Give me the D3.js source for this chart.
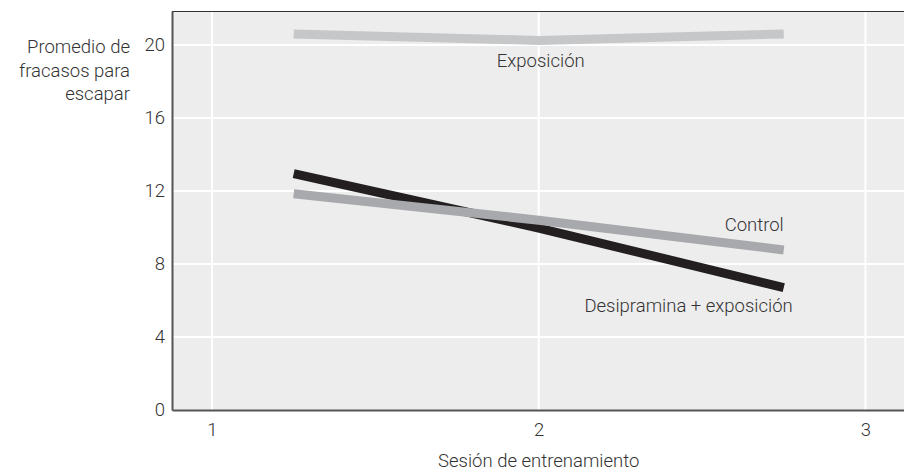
<!DOCTYPE html>
<html><head><meta charset="utf-8">
<script src="https://cdn.jsdelivr.net/npm/d3@7"></script>
<style>body{margin:0;background:#fff}svg{display:block}text{font-family:Roboto,"Liberation Sans",sans-serif;font-weight:300;fill:#333}</style>
</head><body><svg id="c" width="904" height="472"></svg>
<script>
const sessions = [1.25, 2, 2.75];
const exposicion = [20.6, 20.25, 20.6];
const control = [11.85, 10.4, 8.77];
const desipramina = [12.95, 9.97, 6.7];
const yTicks = [0, 4, 8, 12, 16, 20];
const xTicks = [1, 2, 3];
const seriesNames = ["Exposición", "Control", "Desipramina + exposición"];
const yLabelLines = ["Promedio de", "fracasos para", "escapar"];
const xLabel = "Sesión de entrenamiento";

const W = 904, H = 472, FS = "18.5px";
const m = {left:172, top:11, right:0, bottom:62};
const svg = d3.select("#c");
const x = d3.scaleLinear().domain([0.8776, 3.118]).range([m.left, W - m.right]);
const y = d3.scaleLinear().domain([0, 21.86]).range([H - m.bottom, m.top]);

svg.append("rect").attr("x", m.left).attr("y", m.top)
  .attr("width", W - m.right - m.left).attr("height", H - m.bottom - m.top).attr("fill", "#ededed");

// grid
svg.append("g").selectAll("line").data(yTicks.filter(d => d > 0)).join("line")
  .attr("x1", m.left).attr("x2", W).attr("y1", d => y(d)).attr("y2", d => y(d))
  .attr("stroke", "#fff").attr("stroke-width", 2);
svg.append("g").selectAll("line").data(xTicks).join("line")
  .attr("x1", d => x(d)).attr("x2", d => x(d)).attr("y1", m.top).attr("y2", H - m.bottom)
  .attr("stroke", "#fff").attr("stroke-width", 2);

// top border
svg.append("line").attr("x1", m.left).attr("x2", W).attr("y1", m.top + 0.5).attr("y2", m.top + 0.5)
  .attr("stroke", "#333").attr("stroke-width", 1.2);

// axes
const yAxis = d3.axisLeft(y).tickValues(yTicks).tickSize(0).tickPadding(7);
const gy = svg.append("g").attr("transform", `translate(${m.left},0)`).call(yAxis);
gy.select(".domain").attr("stroke", "#555").attr("stroke-width", 2);
gy.selectAll("text").style("font-size", FS).style("font-family", null).attr("fill", "#333");

const xAxis = d3.axisBottom(x).tickValues(xTicks).tickFormat(d3.format("d")).tickSize(0).tickPadding(13);
const gx = svg.append("g").attr("transform", `translate(0,${H - m.bottom})`).call(xAxis);
gx.select(".domain").attr("stroke", "#555").attr("stroke-width", 2);
gx.selectAll("text").style("font-size", FS).attr("fill", "#333");
svg.selectAll("g").attr("font-family", null).attr("font-size", null);

// lines
const line = d3.line().x(d => x(d[0])).y(d => y(d[1]));
const series = [
  {vals: exposicion, color: "#c6c7c8"},
  {vals: control, color: "#a7a9ac"},
  {vals: desipramina, color: "#231f20"}
];
[series[0], series[2], series[1]].forEach(s => {
  svg.append("path").datum(sessions.map((t, i) => [t, s.vals[i]]))
    .attr("d", line).attr("fill", "none").attr("stroke", s.color)
    .attr("stroke-width", 9).attr("stroke-linejoin", "miter").attr("stroke-linecap", "butt");
});

// series labels
svg.append("text").attr("x", x(2) + 2).attr("y", 67).attr("text-anchor", "middle")
  .style("font-size", FS).text(seriesNames[0]);
svg.append("text").attr("x", x(2.75)).attr("y", 231).attr("text-anchor", "end")
  .style("font-size", FS).text(seriesNames[1]);
svg.append("text").attr("x", x(2.75) + 9).attr("y", 312).attr("text-anchor", "end")
  .style("font-size", FS).text(seriesNames[2]);

// y label
svg.append("g").selectAll("text").data(yLabelLines).join("text")
  .attr("x", 130).attr("y", (d, i) => 53 + i * 23.5).attr("text-anchor", "end")
  .style("font-size", FS).text(d => d);

// x label
svg.append("text").attr("x", x(2)).attr("y", 467).attr("text-anchor", "middle")
  .style("font-size", FS).text(xLabel);
</script></body></html>
